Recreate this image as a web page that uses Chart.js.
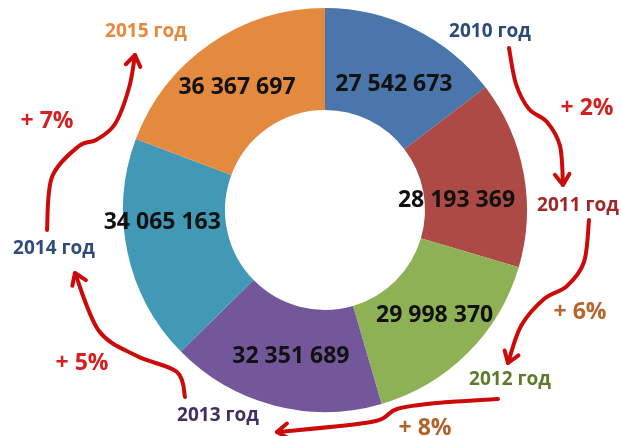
<!DOCTYPE html>
<html>
<head>
<meta charset="utf-8">
<script src="https://cdn.jsdelivr.net/npm/chart.js@4/dist/chart.umd.min.js"></script>
<style>
  html, body { margin: 0; padding: 0; background: #fff; }
  #wrap { width: 622px; height: 436px; }
</style>
</head>
<body>
<div id="wrap"><canvas id="myDonut"></canvas></div>
<script>
// data
var years  = ['2010 год', '2011 год', '2012 год', '2013 год', '2014 год', '2015 год'];
var values = [27542673, 28193369, 29998370, 32351689, 34065163, 36367697];
var growth = ['+ 2%', '+ 6%', '+ 8%', '+ 5%', '+ 7%'];

var segColors  = ['#4a76ac', '#ad4a45', '#8fb155', '#73579a', '#4299b5', '#e38a3f'];
var yearColors = ['#2b4a78', '#a02828', '#5f7a2e', '#3e3060', '#2e4c7a', '#e8883a'];
var growColors = ['#d42020', '#b8652a', '#b0622a', '#d42020', '#d42020'];

// label tweaks around the arc's own centre point
var valOffset = [[2, 10], [-17, 18], [3, -1], [4, 0], [-15, -19], [-2, 2]];
// year / growth labels, relative to doughnut centre
var yearPos = [[165, -178], [253, -4], [185, 170], [-107, 206], [-271, 39], [-179, -178]];
var growPos = [[262, -102], [255, 102], [100, 218], [-243, 153], [-278, -89]];
// arrows between the years, relative to doughnut centre
var arrows = [
  [[184,-162],[191,-126],[204,-101],[222,-88],[235,-64],[238,-25]],
  [[264,10],[259,52],[242,76],[219,89],[196,116],[183,153]],
  [[173,189],[112,193],[72,199],[46,212],[-48,222]],
  [[-140,187],[-148,162],[-188,146],[-226,121],[-250,63]],
  [[-278,20],[-273,-33],[-246,-64],[-229,-70],[-210,-86],[-196,-122],[-190,-155]]
];

function smoothPath(ctx, pts) {
  ctx.beginPath();
  ctx.moveTo(pts[0][0], pts[0][1]);
  for (var i = 0; i < pts.length - 1; i++) {
    var p0 = pts[i - 1] || pts[i];
    var p1 = pts[i];
    var p2 = pts[i + 1];
    var p3 = pts[i + 2] || p2;
    ctx.bezierCurveTo(
      p1[0] + (p2[0] - p0[0]) / 6, p1[1] + (p2[1] - p0[1]) / 6,
      p2[0] - (p3[0] - p1[0]) / 6, p2[1] - (p3[1] - p1[1]) / 6,
      p2[0], p2[1]);
  }
  ctx.stroke();
}

const donutText = {
  id: 'donutText',
  afterDatasetsDraw(chart) {
    var ctx = chart.ctx;
    var arcs = chart.getDatasetMeta(0).data;
    var cx = arcs[0].x, cy = arcs[0].y;
    ctx.save();
    ctx.textAlign = 'center';
    ctx.textBaseline = 'middle';

    // values inside the ring
    ctx.font = 'bold 23px "Open Sans"';
    ctx.fillStyle = '#111';
    arcs.forEach(function (a, i) {
      var p = a.tooltipPosition();
      var txt = values[i].toLocaleString('ru-RU').replace(/\s/g, ' ');
      ctx.fillText(txt, p.x + valOffset[i][0], p.y + valOffset[i][1]);
    });

    // year labels
    ctx.font = 'bold 19px "Open Sans"';
    years.forEach(function (y, i) {
      ctx.fillStyle = yearColors[i];
      ctx.fillText(y, cx + yearPos[i][0], cy + yearPos[i][1]);
    });

    // arrows
    ctx.strokeStyle = '#cc0a0a';
    ctx.lineWidth = 4;
    ctx.lineCap = 'round';
    ctx.lineJoin = 'round';
    arrows.forEach(function (a) {
      var pts = a.map(function (p) { return [cx + p[0], cy + p[1]]; });
      smoothPath(ctx, pts);
      var t = pts[pts.length - 1], s = pts[pts.length - 2];
      var ang = Math.atan2(t[1] - s[1], t[0] - s[0]);
      ctx.beginPath();
      ctx.moveTo(t[0] - 13 * Math.cos(ang - 0.6), t[1] - 13 * Math.sin(ang - 0.6));
      ctx.lineTo(t[0], t[1]);
      ctx.lineTo(t[0] - 13 * Math.cos(ang + 0.6), t[1] - 13 * Math.sin(ang + 0.6));
      ctx.stroke();
    });

    // growth labels
    ctx.font = 'bold 23px "Open Sans"';
    growth.forEach(function (g, i) {
      ctx.fillStyle = growColors[i];
      ctx.fillText(g, cx + growPos[i][0], cy + growPos[i][1]);
    });
    ctx.restore();
  }
};

var ctxD = document.getElementById('myDonut');
var myDonut = new Chart(ctxD, {
  type: 'doughnut',
  data: {
    labels: years,
    datasets: [{
      data: values,
      backgroundColor: segColors,
      borderWidth: 0,
    }],
  },
  options: {
    responsive: true,
    maintainAspectRatio: false,
    animation: false,
    cutout: '49.5%',
    layout: {
      padding: { top: 8, bottom: 24, left: 123, right: 95 }
    },
    plugins: {
      legend: { display: false },
      tooltip: { enabled: false },
    },
  },
  plugins: [donutText]
});
</script>
</body>
</html>
